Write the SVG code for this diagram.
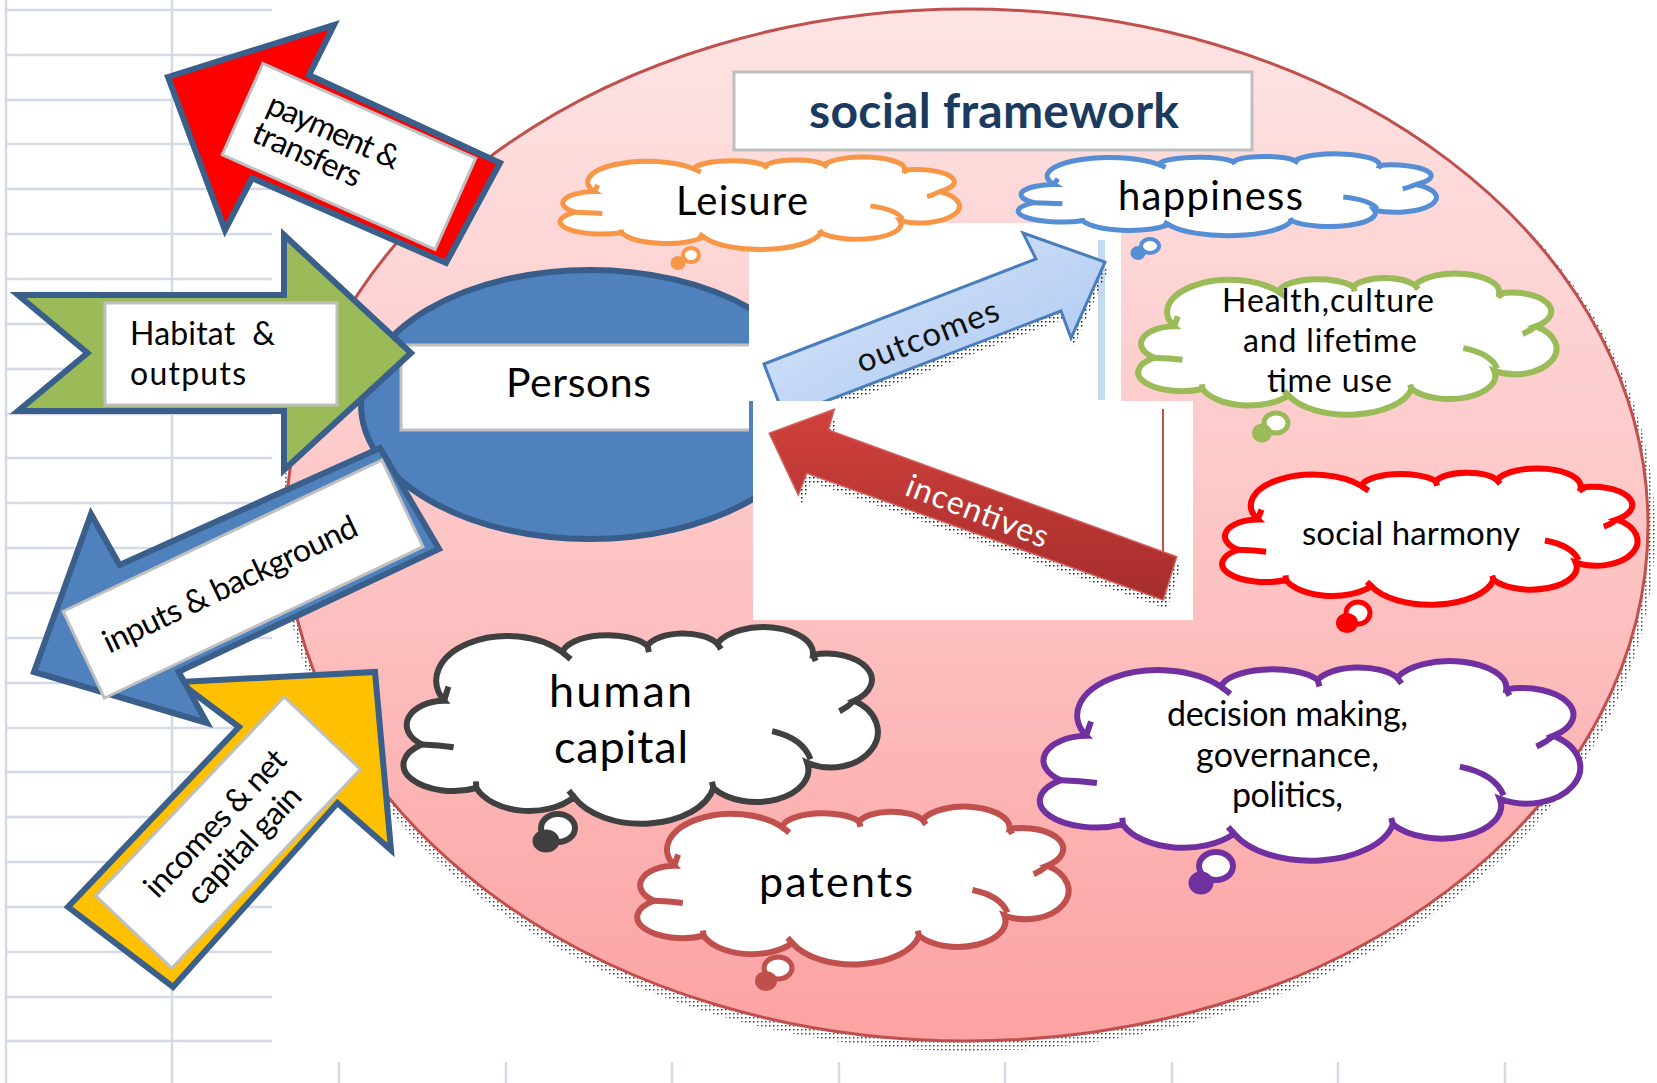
<svg xmlns="http://www.w3.org/2000/svg" width="1657" height="1083" viewBox="0 0 1657 1083">
<style>
  .f { font-family: Lato, "Open Sans", "Liberation Sans", sans-serif; }
  .lbl { font-family: Lato, "Open Sans", "Liberation Sans", sans-serif; font-size: 32px; fill: #000; }
  .ctext { font-family: Lato, "Open Sans", "Liberation Sans", sans-serif; fill: #000; text-anchor: middle; }
  .arrow { stroke: #3a5f8b; stroke-width: 6; stroke-linejoin: miter; }
  .lrect { fill: #fff; stroke: #bfbfbf; stroke-width: 3; }
  #cb, #ct { vector-effect: non-scaling-stroke; }
  .grid line { stroke: #d3dae6; stroke-width: 2.5; }
</style>
<defs>
  <pattern id="dots" width="4" height="4" patternUnits="userSpaceOnUse">
    <rect x="1" y="1" width="1.5" height="1.5" fill="#222"/>
  </pattern>
  <linearGradient id="gBig" x1="0" y1="0" x2="0" y2="1">
    <stop offset="0" stop-color="#fde4e4"/>
    <stop offset="0.5" stop-color="#fdc6c6"/>
    <stop offset="1" stop-color="#fca2a2"/>
  </linearGradient>
  <linearGradient id="gOut" x1="0" y1="0" x2="1" y2="1">
    <stop offset="0" stop-color="#dde9fa"/>
    <stop offset="1" stop-color="#a6c4f1"/>
  </linearGradient>
  <linearGradient id="gIn" x1="0" y1="0" x2="0" y2="1">
    <stop offset="0" stop-color="#d1413d"/>
    <stop offset="1" stop-color="#a62d2b"/>
  </linearGradient>
  <path id="cb" d="M4.4,59.1 A8,12 0 0 1 9.1,37.5 A15,22 0 0 1 34.1,13.6 A9.5,9.5 0 0 1 52,10.2 A8,9 0 0 1 66.7,9.1 A10.5,13 0 0 1 86.9,14.8 A9.5,13 0 0 1 95.6,37.5 A9,16 0 0 1 85.7,68.2 A11,16 0 0 1 65.9,80.7 A15.5,22 0 0 1 36.5,85.2 A12,18 0 0 1 15.9,80.7 A10.5,13 0 0 1 4.4,59.1 Z"/>
  <path id="ct" fill="none" d="M4.4,59.1 Q8,59.3 11.1,60.5 M9.1,37.5 Q9.6,33.5 10,30.5 M34.1,13.6 Q35,15.3 35.8,17 M52,10.2 L52.3,13.4 M66.7,9.1 L67.5,12 M86.9,14.8 L87.5,17.8 M95.6,37.5 Q94.3,40.6 92.5,42.7 M78.3,52.5 Q84.8,56 86.4,66.5 M65.9,80.7 L65.6,77.6 M36.5,85.2 L35.4,82 M15.9,80.7 L15.8,77.4"/>
</defs>

<rect x="0" y="0" width="1657" height="1083" fill="#fff"/>

<g id="grid" class="grid">
  <line x1="6" y1="0" x2="6" y2="1083"/>
  <line x1="172" y1="0" x2="172" y2="1083"/>
  <line x1="6" y1="10" x2="272" y2="10"/>
  <line x1="6" y1="55" x2="272" y2="55"/>
  <line x1="6" y1="100" x2="272" y2="100"/>
  <line x1="6" y1="144" x2="272" y2="144"/>
  <line x1="6" y1="189" x2="272" y2="189"/>
  <line x1="6" y1="234" x2="272" y2="234"/>
  <line x1="6" y1="279" x2="272" y2="279"/>
  <line x1="6" y1="324" x2="272" y2="324"/>
  <line x1="6" y1="369" x2="272" y2="369"/>
  <line x1="6" y1="414" x2="272" y2="414"/>
  <line x1="6" y1="458" x2="272" y2="458"/>
  <line x1="6" y1="503" x2="272" y2="503"/>
  <line x1="6" y1="548" x2="272" y2="548"/>
  <line x1="6" y1="593" x2="272" y2="593"/>
  <line x1="6" y1="638" x2="272" y2="638"/>
  <line x1="6" y1="683" x2="272" y2="683"/>
  <line x1="6" y1="728" x2="272" y2="728"/>
  <line x1="6" y1="772" x2="272" y2="772"/>
  <line x1="6" y1="817" x2="272" y2="817"/>
  <line x1="6" y1="862" x2="272" y2="862"/>
  <line x1="6" y1="907" x2="272" y2="907"/>
  <line x1="6" y1="952" x2="272" y2="952"/>
  <line x1="6" y1="997" x2="272" y2="997"/>
  <line x1="6" y1="1041" x2="272" y2="1041"/>
  <line x1="339" y1="1062" x2="339" y2="1083"/>
  <line x1="506" y1="1062" x2="506" y2="1083"/>
  <line x1="672" y1="1062" x2="672" y2="1083"/>
  <line x1="839" y1="1062" x2="839" y2="1083"/>
  <line x1="1005" y1="1062" x2="1005" y2="1083"/>
  <line x1="1172" y1="1062" x2="1172" y2="1083"/>
  <line x1="1338" y1="1062" x2="1338" y2="1083"/>
  <line x1="1505" y1="1062" x2="1505" y2="1083"/>
</g>

<g id="social-framework-ellipse">
  <ellipse cx="968" cy="531" rx="687" ry="520" fill="url(#dots)" opacity="0.85"/>
  <ellipse cx="967" cy="525" rx="681" ry="516" fill="url(#gBig)" stroke="#c0504d" stroke-width="3"/>
</g>

<g id="persons">
  <ellipse cx="590" cy="404.5" rx="229" ry="134.5" fill="#4f81bd" stroke="#385d8a" stroke-width="6"/>
</g>

<g id="connectors">
  <g id="outcomes-arrow">
    <rect x="749" y="223" width="372" height="178" fill="#fff"/>
    <rect x="1098" y="240" width="7" height="160" fill="#c5d9f1"/>
    <polygon points="767,372 1039,267 1026,241 1108,270 1074,346 1064,319 788,425" fill="url(#dots)"/>
    <polygon points="764,364 1036,259 1023,233 1105,262 1071,338 1061,311 784.5,417" fill="url(#gOut)" stroke="#4a7ebb" stroke-width="3"/>
    <text class="f" transform="translate(928,337) rotate(-21)" x="0" y="10" font-size="33" text-anchor="middle" fill="#111" textLength="150" lengthAdjust="spacing">outcomes</text>
  </g>
  <g id="incentives-arrow">
    <rect x="753" y="401" width="440" height="219" fill="#fff"/>
    <line x1="1163" y1="409" x2="1163" y2="552" stroke="#c0504d" stroke-width="2"/>
    <polygon points="773,442 838,418 832,439 1181,566 1167,609 811,482 802,504" fill="url(#dots)"/>
    <polygon points="769.3,433.3 834.3,409.3 828.3,430 1176.7,556.7 1163.3,600 806.7,473.3 798.3,495" fill="url(#gIn)" stroke="#d0605c" stroke-width="1.5"/>
    <text class="f" transform="translate(977,512) rotate(21)" x="0" y="10" font-size="32" text-anchor="middle" fill="#fff" textLength="150" lengthAdjust="spacing">incentives</text>
  </g>
</g>

<g id="persons-label">
  <rect x="401" y="345" width="348" height="85" fill="#fff"/>
  <path d="M749,345 H401 V430 H749" fill="none" stroke="#bfbfbf" stroke-width="3"/>
  <text class="ctext" x="578.5" y="397" font-size="41" textLength="145" lengthAdjust="spacing">Persons</text>
</g>

<g id="title">
  <rect x="734" y="72" width="518" height="78" fill="#fff" stroke="#bfbfbf" stroke-width="3"/>
  <text class="ctext" x="994" y="128" font-size="48" font-weight="bold" style="fill:#1b3a5f" textLength="370" lengthAdjust="spacing">social framework</text>
</g>

<g id="cloud-leisure" stroke="#f79646" stroke-width="5">
  <use href="#cb" fill="#fff" transform="translate(558,156) scale(3.99,0.95)"/>
  <use href="#ct" transform="translate(558,156) scale(3.99,0.95)"/>
  <ellipse cx="691" cy="255" rx="8" ry="7" fill="#fff" stroke-width="4"/>
  <ellipse cx="678" cy="263" rx="6" ry="5.5" fill="#f79646" stroke-width="3"/>
  <text class="ctext" x="742" y="215" font-size="40" stroke="none" textLength="132" lengthAdjust="spacing">Leisure</text>
</g>

<g id="cloud-happiness" stroke="#558ed5" stroke-width="5">
  <use href="#cb" fill="#fff" transform="translate(1016,153) scale(4.18,0.84)"/>
  <use href="#ct" transform="translate(1016,153) scale(4.18,0.84)"/>
  <ellipse cx="1150" cy="246" rx="9" ry="7" fill="#fff" stroke-width="4"/>
  <ellipse cx="1138" cy="253" rx="6" ry="5.5" fill="#558ed5" stroke-width="3"/>
  <text class="ctext" x="1210.5" y="210" font-size="40" stroke="none" textLength="185" lengthAdjust="spacing">happiness</text>
</g>

<g id="cloud-health" stroke="#9bbb59" stroke-width="6">
  <use href="#cb" fill="#fff" transform="translate(1136,272) scale(4.18,1.45)"/>
  <use href="#ct" transform="translate(1136,272) scale(4.18,1.45)"/>
  <ellipse cx="1276" cy="423" rx="12" ry="10" fill="#fff" stroke-width="5"/>
  <ellipse cx="1262" cy="433" rx="8" ry="7.5" fill="#9bbb59" stroke-width="4"/>
  <g stroke="none">
    <text class="ctext" x="1328" y="312" font-size="32" textLength="212" lengthAdjust="spacing">Health,culture</text>
    <text class="ctext" x="1330" y="352" font-size="32" textLength="174" lengthAdjust="spacing">and lifetime</text>
    <text class="ctext" x="1329.5" y="392" font-size="32" textLength="125" lengthAdjust="spacing">time use</text>
  </g>
</g>

<g id="cloud-social-harmony" stroke="#ff0000" stroke-width="6">
  <use href="#cb" fill="#fff" transform="translate(1220,467) scale(4.15,1.40)"/>
  <use href="#ct" transform="translate(1220,467) scale(4.15,1.40)"/>
  <ellipse cx="1358" cy="613" rx="12" ry="11" fill="#fff" stroke-width="5"/>
  <ellipse cx="1347" cy="623" rx="9" ry="8" fill="#ff0000" stroke-width="4"/>
  <text class="ctext" x="1411" y="545" font-size="33" stroke="none" textLength="218" lengthAdjust="spacing">social harmony</text>
</g>

<g id="cloud-human-capital" stroke="#404040" stroke-width="6">
  <use href="#cb" fill="#fff" transform="translate(401,625) scale(4.74,2.02)"/>
  <use href="#ct" transform="translate(401,625) scale(4.74,2.02)"/>
  <ellipse cx="558" cy="828" rx="17" ry="14" fill="#fff" stroke-width="6"/>
  <ellipse cx="546" cy="841" rx="11" ry="9" fill="#404040" stroke-width="5"/>
  <g stroke="none">
    <text class="ctext" x="620.5" y="707" font-size="45" textLength="143" lengthAdjust="spacing">human</text>
    <text class="ctext" x="621" y="763" font-size="45" textLength="134" lengthAdjust="spacing">capital</text>
  </g>
</g>

<g id="cloud-patents" stroke="#c0504d" stroke-width="6">
  <use href="#cb" fill="#fff" transform="translate(635,805) scale(4.31,1.62)"/>
  <use href="#ct" transform="translate(635,805) scale(4.31,1.62)"/>
  <ellipse cx="778" cy="968" rx="14" ry="11" fill="#fff" stroke-width="5"/>
  <ellipse cx="766" cy="981" rx="9" ry="8" fill="#c0504d" stroke-width="4"/>
  <text class="ctext" x="836" y="897" font-size="43" stroke="none" textLength="154" lengthAdjust="spacing">patents</text>
</g>

<g id="cloud-decision" stroke="#7030a0" stroke-width="6">
  <use href="#cb" fill="#fff" transform="translate(1037,659) scale(5.40,2.05)"/>
  <use href="#ct" transform="translate(1037,659) scale(5.40,2.05)"/>
  <ellipse cx="1216" cy="866" rx="17" ry="14" fill="#fff" stroke-width="6"/>
  <ellipse cx="1201" cy="883" rx="10" ry="9" fill="#7030a0" stroke-width="5"/>
  <g stroke="none">
    <text class="ctext" x="1287.5" y="726" font-size="34" textLength="241" lengthAdjust="spacing">decision making,</text>
    <text class="ctext" x="1287.5" y="767" font-size="34" textLength="183" lengthAdjust="spacing">governance,</text>
    <text class="ctext" x="1287.5" y="807" font-size="34" textLength="111" lengthAdjust="spacing">politics,</text>
  </g>
</g>

<g id="arrow-habitat">
  <polygon class="arrow" points="18,295 284,295 284,235 411,353 284,470 284,411 18,411 87.5,353" fill="#9bbb59"/>
  <rect class="lrect" x="105" y="303" width="232" height="102"/>
  <text class="lbl" x="130" y="345" xml:space="preserve" textLength="145" lengthAdjust="spacing">Habitat  &amp;</text>
  <text class="lbl" x="130" y="385" textLength="116" lengthAdjust="spacing">outputs</text>
</g>

<g id="arrow-payment">
  <polygon class="arrow" points="168,77 334,25 309,75 500,163 446,263 252,178 225,230" fill="#ff0000"/>
  <g transform="translate(349,156.5) rotate(24)">
    <rect class="lrect" x="-116.5" y="-50" width="233" height="100"/>
    <text class="lbl" x="-95" y="-6" font-size="28" textLength="142" lengthAdjust="spacing">payment &amp;</text>
    <text class="lbl" x="-97" y="26" font-size="28" textLength="116" lengthAdjust="spacing">transfers</text>
  </g>
</g>

<g id="arrow-incomes">
  <polygon class="arrow" points="375,672 391,850 337.5,803 173,987 68,907 239,727 179,682" fill="#ffc000"/>
  <g transform="translate(228,832.5) rotate(-46.5)">
    <rect class="lrect" x="-137" y="-52.5" width="274" height="105"/>
    <text class="lbl" x="-2" y="-5" font-size="30" text-anchor="middle" textLength="190" lengthAdjust="spacing">incomes &amp; net</text>
    <text class="lbl" x="2" y="31" font-size="30" text-anchor="middle" textLength="150" lengthAdjust="spacing">capital gain</text>
  </g>
</g>

<g id="arrow-inputs">
  <polygon class="arrow" points="380,448 439,549 178.6,671.7 207,723 34,672 91,514 119.6,565" fill="#4f81bd"/>
  <g transform="translate(243.1,579.1) rotate(-25.4)">
    <rect class="lrect" x="-176.4" y="-48" width="352.8" height="96"/>
    <text class="lbl" x="-14" y="10" font-size="30" text-anchor="middle" textLength="278" lengthAdjust="spacing">inputs &amp; background</text>
  </g>
</g>
</svg>
